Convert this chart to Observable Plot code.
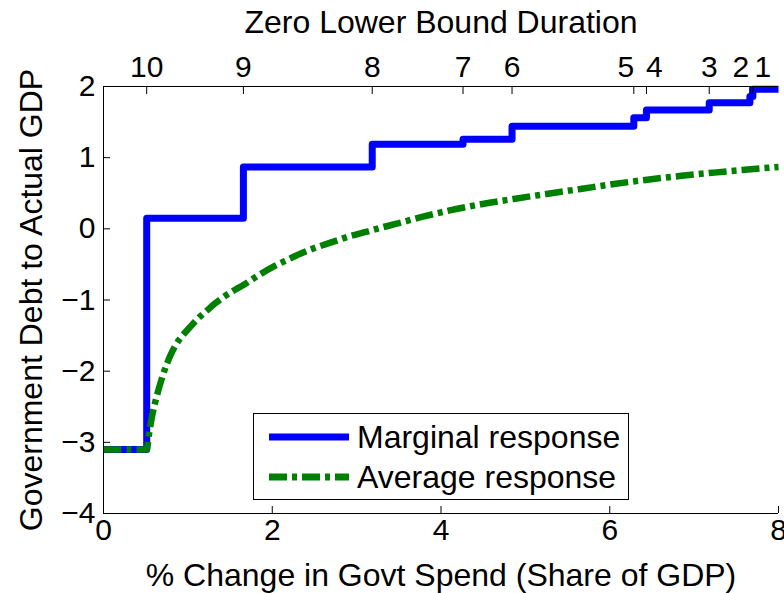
<!DOCTYPE html>
<html><head><meta charset="utf-8">
<script src="https://cdn.jsdelivr.net/npm/d3@7"></script>
<script src="https://cdn.jsdelivr.net/npm/@observablehq/plot@0.6"></script>
<style>html,body{margin:0;padding:0;background:#fff;} svg{display:block}</style>
</head><body><div id="chart"></div>
<script>
const xTicks = [0, 2, 4, 6, 8];
const yTicks = [-4, -3, -2, -1, 0, 1, 2];
const zlbLabels = ["10", "9", "8", "7", "6", "5", "4", "3", "2", "1"];
const zlbPos = [0.512, 1.658, 3.185, 4.261, 4.842, 6.285, 6.435, 7.179, 7.661, 7.696];
const marginalX = [0, 0.512, 1.658, 3.185, 4.261, 4.842, 6.285, 6.435, 7.179, 7.661, 7.696, 8];
const marginalY = [-3.1, 0.15, 0.87, 1.19, 1.26, 1.44, 1.56, 1.67, 1.77, 1.86, 1.96, 1.96];
const averageX = [0, 0.512, 0.54, 0.571, 0.61, 0.65, 0.7, 0.75, 0.8, 0.868, 0.95, 1.026, 1.12, 1.224, 1.32, 1.421, 1.54, 1.658, 1.8, 2.014, 2.17, 2.331, 2.5, 2.726, 2.9, 3.122, 3.3, 3.5, 3.75, 4.071, 4.45, 4.861, 5.25, 5.652, 6.05, 6.444, 6.85, 7.234, 7.6, 8];
const averageY = [-3.1, -3.1, -2.88, -2.66, -2.45, -2.27, -2.07, -1.9, -1.76, -1.61, -1.48, -1.38, -1.26, -1.15, -1.05, -0.96, -0.87, -0.79, -0.68, -0.53, -0.44, -0.35, -0.27, -0.18, -0.11, -0.04, 0.02, 0.08, 0.16, 0.25, 0.34, 0.42, 0.49, 0.56, 0.63, 0.69, 0.745, 0.79, 0.83, 0.87];
const seriesNames = ["Marginal response", "Average response"];
const xLabel = "% Change in Govt Spend (Share of GDP)";
const yLabel = "Government Debt to Actual GDP";
const topLabel = "Zero Lower Bound Duration";

const marginal = marginalX.map((x, i) => ({x, y: marginalY[i]}));
const average = averageX.map((x, i) => ({x, y: averageY[i]}));
const font = "'Liberation Sans', Arial, Helvetica, sans-serif";
const labelShift = {"5": -8, "4": 8, "2": -9, "1": 10};
const blue = "#0000ff", green = "#008000", dash = "18,5,5,5";
const fmt = d => (d < 0 ? "\u2212" + Math.abs(d) : String(d));

const plot = Plot.plot({
  width: 784, height: 593,
  marginLeft: 103, marginRight: 6, marginTop: 86, marginBottom: 80,
  style: {fontFamily: font, fontSize: "30px", color: "black", background: "white"},
  x: {domain: [0, 8]},
  y: {domain: [-4, 2]},
  marks: [
    Plot.line(marginal, {x: "x", y: "y", curve: "step-after", stroke: blue, strokeWidth: 7, strokeLinejoin: "round", strokeLinecap: "butt"}),
    Plot.line(average, {x: "x", y: "y", curve: "monotone-x", stroke: green, strokeWidth: 6.5, strokeDasharray: dash, strokeLinecap: "butt", strokeLinejoin: "miter"}),
    Plot.ruleX([0], {stroke: "black"}),
    Plot.ruleY([-4, 2], {stroke: "black"}),
    Plot.axisX({anchor: "bottom", ticks: xTicks, tickSize: 7, dy: -7, tickPadding: 5, tickFormat: fmt, fontSize: 30, label: null}),
    Plot.axisY({anchor: "left", ticks: yTicks, tickSize: 7, dx: 7, tickPadding: 8, tickFormat: fmt, fontSize: 30, label: null}),
    Plot.axisX({anchor: "top", ticks: zlbPos, tickSize: 7, dy: 7, tickFormat: () => "", label: null}),
    ...zlbLabels.map((t, i) => Plot.text([t], {x: [zlbPos[i]], text: [t], frameAnchor: "top", textAnchor: "middle", lineAnchor: "bottom", dy: -10, dx: labelShift[t] || 0, fontSize: 30})),
    Plot.text([topLabel], {text: d => d, frameAnchor: "top", textAnchor: "middle", lineAnchor: "bottom", dy: -54, fontSize: 32}),
    Plot.text([xLabel], {text: d => d, frameAnchor: "bottom", textAnchor: "middle", lineAnchor: "bottom", dy: 72, fontSize: 32}),
    Plot.text([yLabel], {text: d => d, frameAnchor: "left", textAnchor: "middle", lineAnchor: "bottom", rotate: -90, dx: -62, fontSize: 32})
  ]
});
document.getElementById("chart").appendChild(plot);

// legend (inside plot area, lower middle)
const svg = d3.select(plot);
const lg = svg.append("g").attr("font-family", font).attr("font-size", 32).attr("text-anchor", "start");
lg.append("rect").attr("x", 253.5).attr("y", 413.5).attr("width", 375).attr("height", 86)
  .attr("fill", "white").attr("stroke", "black").attr("stroke-width", 1);
const legendItems = [
  {name: seriesNames[0], color: blue, dash: null},
  {name: seriesNames[1], color: green, dash: dash}
];
legendItems.forEach((d, i) => {
  const cy = 437 + i * 40;
  const ln = lg.append("line").attr("x1", 269).attr("x2", 349).attr("y1", cy).attr("y2", cy)
    .attr("stroke", d.color).attr("stroke-width", 7).attr("stroke-linecap", "butt");
  if (d.dash) ln.attr("stroke-dasharray", d.dash);
  lg.append("text").attr("x", 357).attr("y", cy + 11).attr("fill", "black").attr("text-anchor", "start").text(d.name);
});
</script>
</body></html>
